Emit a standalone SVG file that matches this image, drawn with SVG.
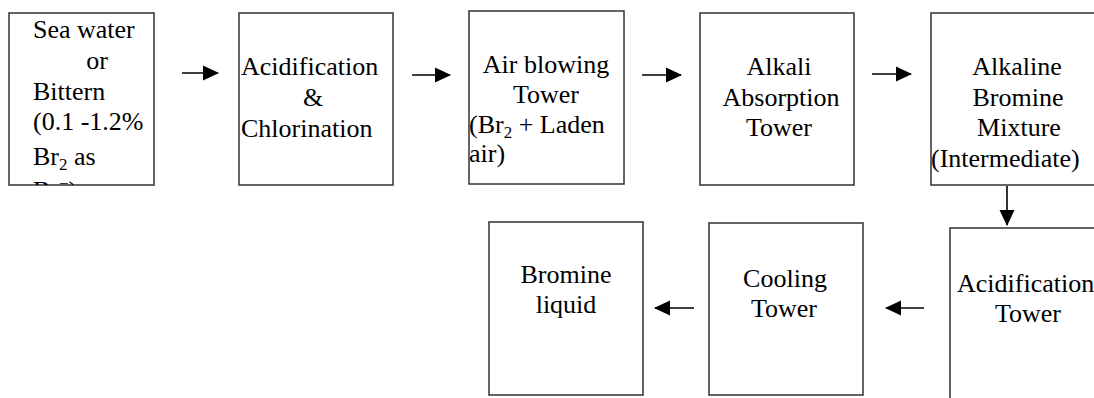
<svg xmlns="http://www.w3.org/2000/svg" width="1094" height="398" viewBox="0 0 1094 398" font-family="Liberation Serif, Times New Roman, serif">
<style>
.box{fill:#fff;stroke:#333;stroke-width:1.5}
.t{font-size:26px;fill:#000}
.m{text-anchor:middle}
.c{stroke:#000;stroke-width:1.6;fill:none}
</style>
<defs>
<marker id="ah" viewBox="0 0 16 16" refX="15" refY="8" markerWidth="16" markerHeight="16" markerUnits="userSpaceOnUse" orient="auto">
<path d="M0,0.5 L16,8 L0,15.5 Z" fill="#000"/>
</marker>
<clipPath id="clip1"><rect x="9" y="13" width="145" height="172"/></clipPath>
</defs>
<rect width="1094" height="398" fill="#fff"/>
<g id="connectors">
<line class="c" x1="182" y1="73" x2="218" y2="73" marker-end="url(#ah)"/>
<line class="c" x1="412" y1="75" x2="450" y2="75" marker-end="url(#ah)"/>
<line class="c" x1="642" y1="75" x2="681" y2="75" marker-end="url(#ah)"/>
<line class="c" x1="872" y1="74" x2="911" y2="74" marker-end="url(#ah)"/>
<line class="c" x1="1007" y1="186" x2="1007" y2="225" marker-end="url(#ah)"/>
<line class="c" x1="924" y1="308" x2="886" y2="308" marker-end="url(#ah)"/>
<line class="c" x1="694" y1="308" x2="655" y2="308" marker-end="url(#ah)"/>
</g>
<g id="seawater">
<rect class="box" x="9" y="13" width="145" height="172"/>
<g clip-path="url(#clip1)">
<text class="t" x="33" y="38">Sea water</text>
<text class="t m" x="97" y="69">or</text>
<text class="t" x="33" y="100">Bittern</text>
<text class="t" x="33" y="130">(0.1 -1.2%</text>
<text class="t" x="33" y="165">Br<tspan font-size="17" dy="5">2</tspan><tspan dy="-5"> as</tspan></text>
<text class="t" x="33" y="199">Br<tspan font-size="17" dy="-10">−</tspan><tspan dy="10">)</tspan></text>
</g>
</g>
<g id="acidification-chlorination">
<rect class="box" x="239" y="13" width="154" height="172"/>
<text class="t" x="241" y="75">Acidification</text>
<text class="t m" x="313" y="106">&amp;</text>
<text class="t" x="241" y="137">Chlorination</text>
</g>
<g id="air-blowing">
<rect class="box" x="469" y="11" width="155" height="173"/>
<text class="t m" x="546" y="73">Air blowing</text>
<text class="t m" x="546" y="103">Tower</text>
<text class="t" x="469" y="133">(Br<tspan font-size="17" dy="5">2</tspan><tspan dy="-5"> + Laden</tspan></text>
<text class="t" x="469" y="162">air)</text>
</g>
<g id="alkali-absorption">
<rect class="box" x="700" y="13" width="154" height="172"/>
<text class="t m" x="779" y="75">Alkali</text>
<text class="t m" x="781" y="106">Absorption</text>
<text class="t m" x="779" y="136">Tower</text>
</g>
<g id="alkaline-bromine">
<rect class="box" x="931" y="13" width="168" height="172"/>
<text class="t m" x="1017" y="75">Alkaline</text>
<text class="t m" x="1018" y="106">Bromine</text>
<text class="t m" x="1019" y="136">Mixture</text>
<text class="t" x="931" y="167">(Intermediate)</text>
</g>
<g id="acidification-tower">
<rect class="box" x="950" y="228" width="160" height="180"/>
<text class="t" x="957" y="292">Acidification</text>
<text class="t m" x="1028" y="322">Tower</text>
</g>
<g id="cooling-tower">
<rect class="box" x="709" y="223" width="154" height="172"/>
<text class="t m" x="785" y="287">Cooling</text>
<text class="t m" x="784" y="317">Tower</text>
</g>
<g id="bromine-liquid">
<rect class="box" x="489" y="222" width="154" height="173"/>
<text class="t m" x="566" y="283">Bromine</text>
<text class="t m" x="566" y="313">liquid</text>
</g>
</svg>
